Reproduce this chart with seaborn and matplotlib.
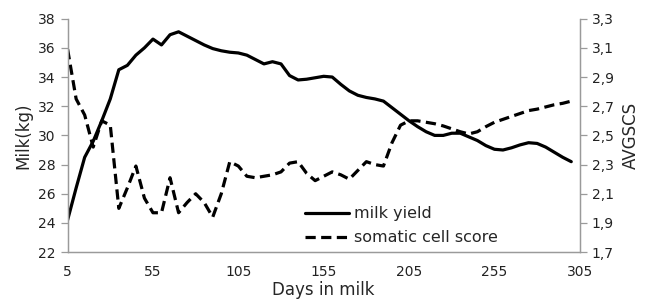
import numpy as np
import pandas as pd
import matplotlib
matplotlib.use("Agg")
import matplotlib.pyplot as plt
import seaborn as sns
from matplotlib.ticker import FuncFormatter

# -------------------------- data --------------------------
days = list(range(5, 305, 5))

milk_yield = [24.2, 26.4, 28.5, 29.6, 31.0, 32.5, 34.5, 34.8, 35.5, 36.0,
              36.6, 36.2, 36.9, 37.1, 36.8, 36.5, 36.2, 35.95, 35.8, 35.7,
              35.65, 35.5, 35.2, 34.9, 35.05, 34.9, 34.1, 33.8, 33.85, 33.95,
              34.05, 34.0, 33.5, 33.05, 32.75, 32.6, 32.5, 32.35, 31.9, 31.45,
              31.0, 30.6, 30.25, 30.0, 30.0, 30.15, 30.15, 29.9, 29.65, 29.3,
              29.05, 29.0, 29.15, 29.35, 29.5, 29.45, 29.2, 28.85, 28.5, 28.2]

scc_score = [3.09, 2.75, 2.64, 2.42, 2.60, 2.57, 2.00, 2.14, 2.29, 2.07,
             1.97, 1.97, 2.21, 1.97, 2.04, 2.10, 2.04, 1.94, 2.10, 2.32,
             2.29, 2.22, 2.21, 2.22, 2.23, 2.25, 2.31, 2.32, 2.24, 2.19,
             2.22, 2.25, 2.23, 2.20, 2.26, 2.32, 2.30, 2.29, 2.45, 2.57,
             2.60, 2.60, 2.59, 2.58, 2.565, 2.545, 2.525, 2.51, 2.525, 2.56,
             2.59, 2.61, 2.63, 2.65, 2.67, 2.68, 2.695, 2.71, 2.72, 2.735]

x_ticks = [5, 55, 105, 155, 205, 255, 305]
left_ticks = [22, 24, 26, 28, 30, 32, 34, 36, 38]
right_ticks = [1.7, 1.9, 2.1, 2.3, 2.5, 2.7, 2.9, 3.1, 3.3]

df = pd.DataFrame({"day": days, "milk": milk_yield, "scc": scc_score})

# -------------------------- style --------------------------
sns.set_style("white")
plt.rcParams["font.family"] = ["DejaVu Sans"]
plt.rcParams["lines.solid_joinstyle"] = "round"
plt.rcParams["lines.dash_joinstyle"] = "round"
spine_col = "#9a9a9a"

fig = plt.figure(figsize=(6.5, 3.06), dpi=100)
ax = fig.add_axes([0.104, 0.176, 0.788, 0.763])
ax2 = ax.twinx()

sns.lineplot(data=df, x="day", y="milk", ax=ax, color="black", lw=2.3,
             label="milk yield", legend=False)
sns.lineplot(data=df, x="day", y="scc", ax=ax2, color="black", lw=2.3,
             label="somatic cell score", legend=False)
ax2.lines[0].set_dashes((3.2, 1.7))

ax.set_xlim(5, 305)
ax.set_ylim(22, 38)
ax2.set_ylim(1.7, 3.3)
ax.set_xticks(x_ticks)
ax.set_yticks(left_ticks)
ax2.set_yticks(right_ticks)
ax2.yaxis.set_major_formatter(FuncFormatter(lambda v, p: f"{v:.1f}".replace(".", ",")))

for a in (ax, ax2):
    for s in a.spines.values():
        s.set_color(spine_col)
        s.set_linewidth(0.9)
    a.spines["top"].set_visible(False)
    a.tick_params(axis="both", which="major", length=5, width=0.9,
                  color=spine_col, labelsize=10, labelcolor="#222222",
                  direction="out")
ax.tick_params(axis="x", pad=4)

ax.set_xlabel("Days in milk", fontsize=12, labelpad=2)
ax.set_ylabel("Milk(kg)", fontsize=12, labelpad=4)
ax2.set_ylabel("AVGSCS", fontsize=12, labelpad=6)

h1, l1 = ax.get_legend_handles_labels()
h2, l2 = ax2.get_legend_handles_labels()
ax.legend(h1 + h2, l1 + l2, loc="lower left", bbox_to_anchor=(0.463, 0.03),
          borderpad=0, borderaxespad=0, frameon=False, fontsize=11.5,
          handlelength=2.8, handletextpad=0.3, labelspacing=0.55)

fig.savefig("out.png", dpi=100)
